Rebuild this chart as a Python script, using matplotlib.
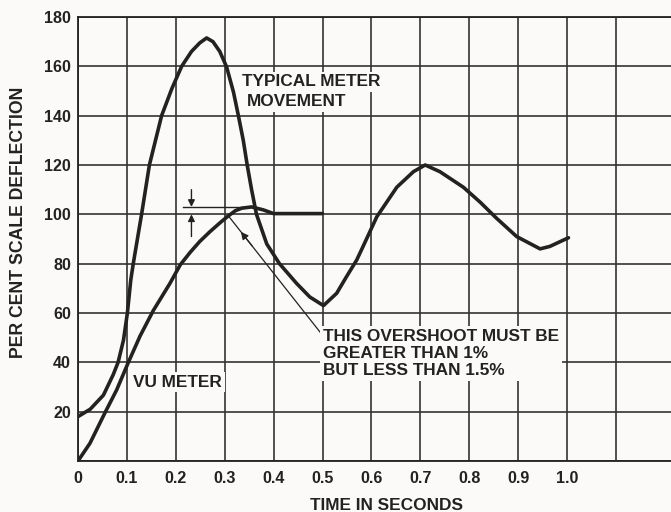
import matplotlib
matplotlib.use("Agg")
import matplotlib.pyplot as plt

# ---- data ----
meter_t = [0.000, 0.025, 0.052, 0.072, 0.082, 0.093, 0.101, 0.108, 0.113, 0.130,
           0.146, 0.171, 0.192, 0.212, 0.232, 0.249, 0.263, 0.276, 0.290, 0.304,
           0.318, 0.328, 0.338, 0.346, 0.355, 0.365, 0.386, 0.412, 0.447, 0.474,
           0.502, 0.529, 0.549, 0.570, 0.583, 0.611, 0.652, 0.686, 0.710, 0.740,
           0.788, 0.822, 0.856, 0.897, 0.945, 0.965, 1.003]
meter_v = [18, 21, 26.7, 35, 40, 49, 60, 73.5, 80, 100,
           120, 140, 151, 160, 166, 169.5, 171.5, 170, 166, 159.7,
           149.5, 140, 130, 120, 110, 100, 88, 80, 72, 66.5,
           63, 68, 74.7, 81.5, 87, 99, 111, 117.3, 120, 117.3,
           111, 105, 98.4, 91, 86, 87, 90.5]

vu_t = [0.000, 0.0245, 0.055, 0.079, 0.103, 0.127, 0.154, 0.188, 0.209, 0.229,
        0.249, 0.270, 0.290, 0.307, 0.322, 0.335, 0.355, 0.379, 0.400, 0.500]
vu_v = [0, 7.2, 19.5, 28.8, 40, 50.7, 61, 72, 79.5, 84.5,
        89, 93, 96.5, 99.3, 101.5, 102.5, 103, 101.8, 100.3, 100.3]

x_ticks = [0.0, 0.1, 0.2, 0.3, 0.4, 0.5, 0.6, 0.7, 0.8, 0.9, 1.0, 1.1]
x_labels = ["0", "0.1", "0.2", "0.3", "0.4", "0.5", "0.6", "0.7", "0.8", "0.9", "1.0", ""]
y_ticks = [0, 20, 40, 60, 80, 100, 120, 140, 160, 180]
y_labels = ["", "20", "40", "60", "80", "100", "120", "140", "160", "180"]

overshoot_top = 103
overshoot_base = 100

plt.rcParams['font.family'] = ['Liberation Sans', 'DejaVu Sans']
plt.rcParams['font.weight'] = 'bold'

W, H = 671, 512
fig = plt.figure(figsize=(W / 100, H / 100), dpi=100)
bg = '#fbfaf8'
ink = '#222222'
fig.patch.set_facecolor(bg)

ax = fig.add_axes([78 / W, 51 / H, 593 / W, 444 / H])
ax.set_facecolor(bg)
ax.set_xlim(0, 593 / 489)
ax.set_ylim(0, 180)

ax.set_xticks(x_ticks)
ax.set_xticklabels(x_labels)
ax.set_yticks(y_ticks)
ax.set_yticklabels(y_labels)
ax.tick_params(length=0, labelsize=11.6, labelcolor=ink)
ax.tick_params(axis='x', pad=7)
ax.tick_params(axis='y', pad=5)
ax.grid(True, color='#333333', linewidth=1.2)
ax.set_axisbelow(True)
for s in ['left', 'bottom', 'top']:
    ax.spines[s].set_color(ink)
    ax.spines[s].set_linewidth(1.3)
ax.spines['right'].set_visible(False)

ax.plot(meter_t, meter_v, color=ink, lw=2.6, solid_capstyle='round',
        solid_joinstyle='round', zorder=3)
ax.plot(vu_t, vu_v, color=ink, lw=2.6, solid_capstyle='round',
        solid_joinstyle='round', zorder=3)

# overshoot marker
ax.plot([0.215, 0.335], [overshoot_top, overshoot_top], color=ink, lw=1.0, zorder=3)
ap = dict(arrowstyle='-|>', color=ink, lw=1.0, mutation_scale=10, shrinkA=0, shrinkB=0)
ax.annotate('', xy=(0.232, overshoot_top), xytext=(0.232, 110), arrowprops=ap, zorder=4)
ax.annotate('', xy=(0.232, overshoot_base), xytext=(0.232, 91), arrowprops=ap, zorder=4)

# pointer line from text to VU curve
ax.plot([0.502, 0.307], [50.5, 99.5], color=ink, lw=0.9, zorder=3)
ax.annotate('', xy=(0.333, 92.9), xytext=(0.356, 87.25),
            arrowprops=dict(arrowstyle='-|>', color=ink, lw=0.9, mutation_scale=11,
                            shrinkA=0, shrinkB=0), zorder=4)

box = dict(boxstyle='square,pad=0.15', fc=bg, ec='none')
fs = 12.4
ax.text(0.335, 153.8, "TYPICAL METER", fontsize=fs, color=ink, ha='left', va='center', bbox=box, zorder=5)
ax.text(0.345, 145.7, "MOVEMENT", fontsize=fs, color=ink, ha='left', va='center', bbox=box, zorder=5)
ax.text(0.113, 32, "VU METER", fontsize=fs, color=ink, ha='left', va='center', bbox=box, zorder=5)
ax.text(0.501, 43.6, "THIS OVERSHOOT MUST BE\nGREATER THAN 1%\nBUT LESS THAN 1.5%",
        fontsize=fs, color=ink, ha='left', va='center', linespacing=1.17, bbox=box, zorder=5)

fig.text(19 / W, 1 - 222.5 / H, "PER CENT SCALE DEFLECTION", rotation=90,
         fontsize=12.7, color=ink, ha='center', va='center')
fig.text(386.5 / W, 1 - 505 / H, "TIME IN SECONDS", fontsize=12.4, color=ink,
         ha='center', va='center')

fig.savefig("out.png", dpi=100, facecolor=bg)
